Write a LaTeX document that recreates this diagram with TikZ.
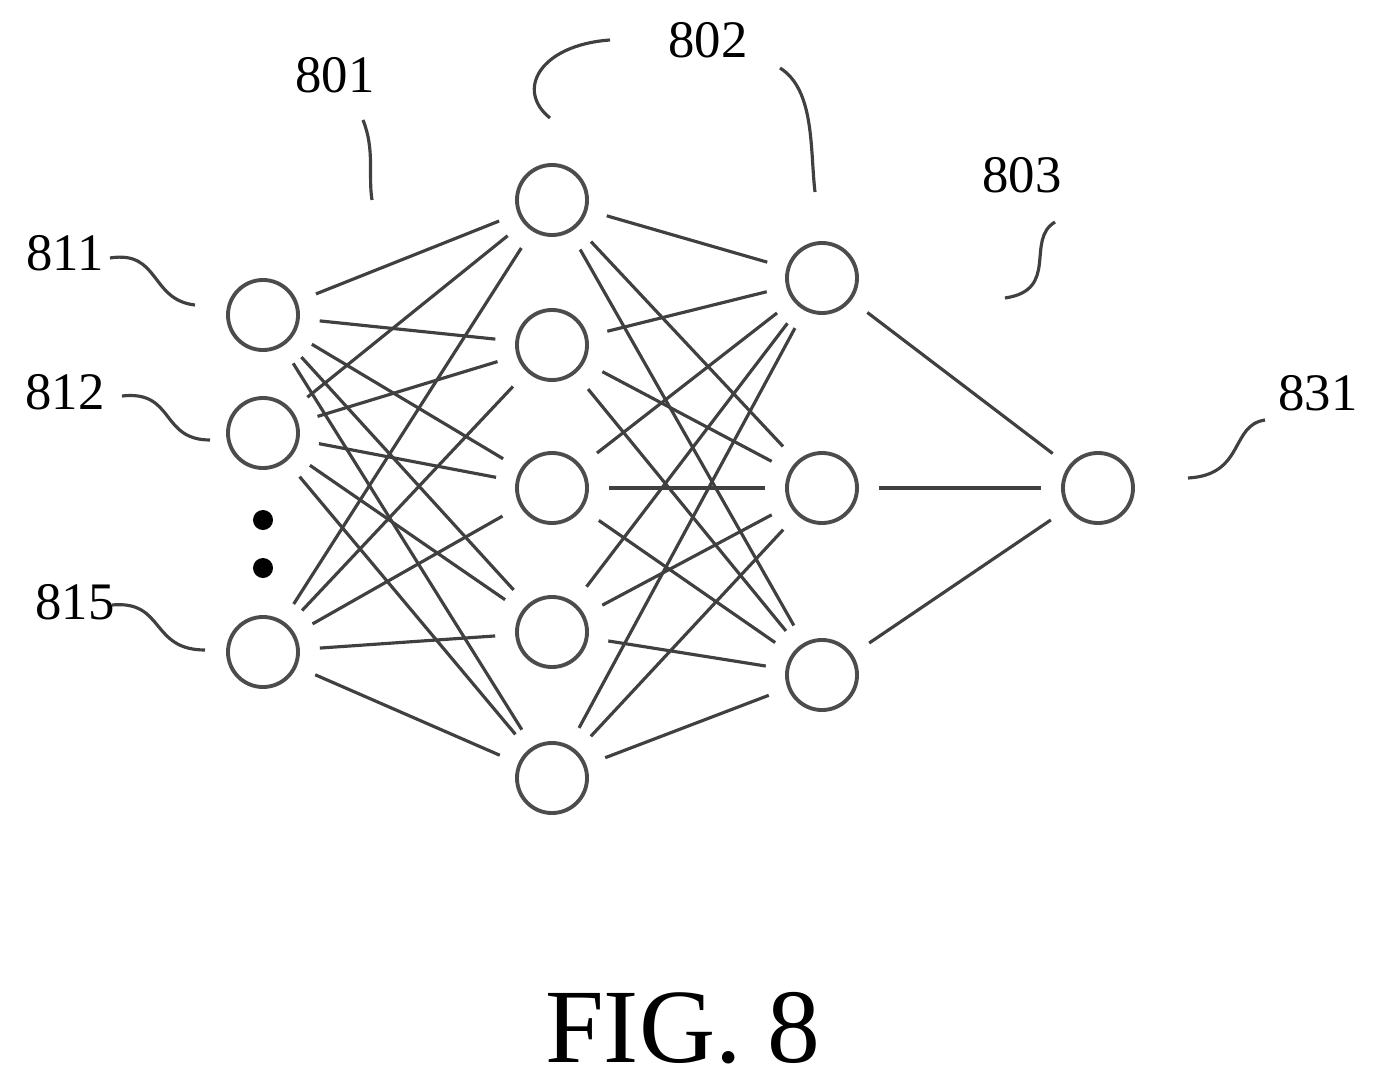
\documentclass[tikz,border=0pt]{standalone}
\usepackage{fontspec}
\setmainfont{Liberation Serif}
\usetikzlibrary{calc}
\tikzset{
	neuron/.style={circle,draw=black!70,line width=1.1pt,minimum size=0.7cm,inner sep=0pt},
	link/.style={draw=black!75,line width=0.9pt,shorten >=0.2cm,shorten <=0.2cm},
	lead/.style={draw=black!75,line width=0.9pt},
	num/.style={font=\fontsize{15}{18}\selectfont}
}
\begin{document}
\begin{tikzpicture}[x=0.01cm,y=-0.01cm]
\useasboundingbox (0,0) rectangle (1388,1085);
% input layer
\node[neuron] (i1) at (263,315) {};
\node[neuron] (i2) at (263,433) {};
\node[neuron] (i3) at (263,652) {};
\fill (263,520) circle (0.1cm) (263,568) circle (0.1cm);
% hidden layers
\foreach \k/\y in {1/200,2/345,3/488,4/632,5/778}
	\node[neuron] (a\k) at (552,\y) {};
\foreach \k/\y in {1/278,2/488,3/675}
	\node[neuron] (b\k) at (822,\y) {};
\node[neuron] (o) at (1098,488) {};
% connections
\foreach \i in {1,2,3} \foreach \k in {1,...,5}
	\draw[link] (i\i) -- (a\k);
\foreach \k in {1,...,5} \foreach \j in {1,2,3}
	\draw[link] (a\k) -- (b\j);
\foreach \j in {1,2,3}
	\draw[link] (b\j) -- (o);
% labels
\node[num] (l811) at (65,253) {811};
\node[num] (l812) at (65,392) {812};
\node[num] (l815) at (75,602) {815};
\node[num] (l801) at (335,75) {801};
\node[num] (l802) at (708,40) {802};
\node[num] (l803) at (1022,175) {803};
\node[num] (l831) at (1318,393) {831};
\node[font=\fontsize{30}{36}\selectfont] (fig) at (683,1028) {FIG. 8};
\draw[lead] (110,258) .. controls (160,250) and (150,300) .. (195,305);
\draw[lead] (122,396) .. controls (175,390) and (160,440) .. (210,440);
\draw[lead] (112,605) .. controls (165,600) and (150,650) .. (205,650);
\draw[lead] (363,120) .. controls (375,150) and (368,175) .. (372,200);
\draw[lead] (610,40) .. controls (540,45) and (515,90) .. (550,118);
\draw[lead] (780,68) .. controls (815,90) and (810,150) .. (815,192);
\draw[lead] (1055,222) .. controls (1025,240) and (1060,290) .. (1005,298);
\draw[lead] (1265,420) .. controls (1230,425) and (1245,475) .. (1188,478);
\end{tikzpicture}
\end{document}
